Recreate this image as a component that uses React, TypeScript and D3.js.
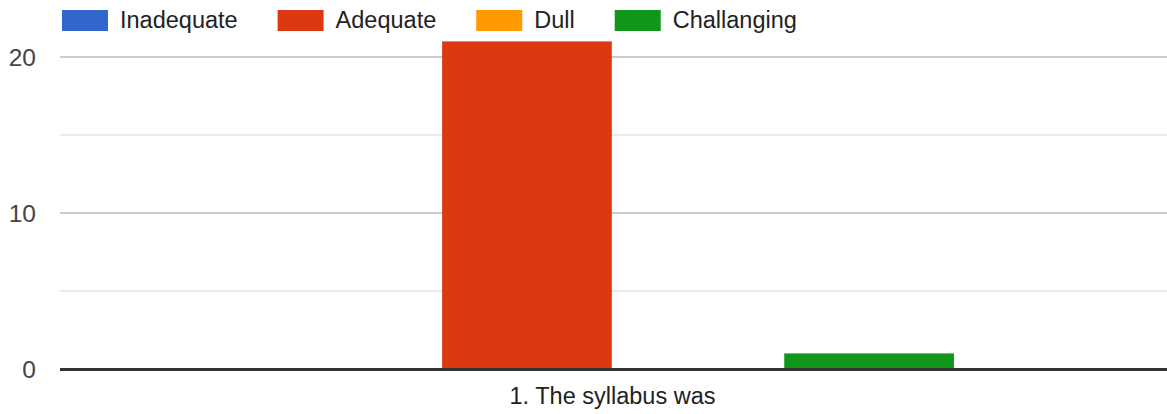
import React, { useMemo } from "react";
import * as d3 from "d3";

const categories: string[] = ["1. The syllabus was"];
const seriesNames: string[] = ["Inadequate", "Adequate", "Dull", "Challanging"];
const seriesColors: string[] = ["#3366cc", "#dc3912", "#ff9900", "#109618"];
const seriesValues: number[][] = [[0], [21], [0], [1]];
const yTicks: number[] = [0, 5, 10, 15, 20];
const yLabelTicks: number[] = [0, 10, 20];

const W = 1167;
const H = 414;
const FONT = "'Liberation Sans', Arial, sans-serif";

function measure(text: string, size: number): number {
  const c = document.createElement("canvas");
  const ctx = c.getContext("2d");
  if (!ctx) return text.length * size * 0.5;
  ctx.font = `${size}px 'Liberation Sans', Arial, sans-serif`;
  return ctx.measureText(text).width;
}

export default function App() {
  const left = 60;
  const right = 1165;
  const baseY = 369;
  const y = d3.scaleLinear().domain([0, 20]).range([baseY, 57]);

  const groupFrac = 0.618;
  const x0 = d3
    .scaleBand<string>()
    .domain(categories)
    .range([left, right])
    .paddingInner(0)
    .paddingOuter((1 / groupFrac - 1) / 2);
  const x1 = d3
    .scaleBand<string>()
    .domain(seriesNames)
    .range([0, x0.bandwidth()])
    .paddingInner(0.008)
    .paddingOuter(0);

  const legendSize = 23.5;
  const legendItems = useMemo(() => {
    let cx = 62;
    return seriesNames.map((name, i) => {
      const w = measure(name, legendSize);
      const item = { name, color: seriesColors[i], x: cx, w };
      cx += 46 + 12 + w + 40;
      return item;
    });
  }, []);

  return (
    <svg
      width={W}
      height={H}
      style={{ position: "absolute", left: 0, top: 0, background: "#fff" }}
      fontFamily={FONT}
    >
      {yTicks
        .filter((t) => t !== 0)
        .map((t) => (
          <line
            key={t}
            x1={left}
            x2={W}
            y1={y(t)}
            y2={y(t)}
            stroke={t % 10 === 0 ? "#cccccc" : "#ebebeb"}
            strokeWidth={2}
          />
        ))}
      {yLabelTicks.map((t) => (
        <text
          key={t}
          x={36}
          y={y(t) + 9}
          textAnchor="end"
          fontSize={24.5}
          fill="#444"
        >
          {t}
        </text>
      ))}
      {categories.map((c, ci) => (
        <g key={c} transform={`translate(${x0(c)},0)`}>
          {seriesNames.map((s, si) => {
            const v = seriesValues[si][ci];
            if (!v) return null;
            return (
              <rect
                key={s}
                x={x1(s)}
                y={y(v)}
                width={x1.bandwidth()}
                height={baseY - y(v)}
                fill={seriesColors[si]}
              />
            );
          })}
        </g>
      ))}
      <line x1={left} x2={W} y1={baseY + 0.5} y2={baseY + 0.5} stroke="#333" strokeWidth={3} />
      {categories.map((c) => (
        <text
          key={c}
          x={(x0(c) as number) + x0.bandwidth() / 2}
          y={404}
          textAnchor="middle"
          fontSize={23.5}
          fill="#222"
        >
          {c}
        </text>
      ))}
      {legendItems.map((it) => (
        <g key={it.name}>
          <rect x={it.x} y={10} width={46} height={21} fill={it.color} />
          <text x={it.x + 58} y={28} fontSize={legendSize} fill="#222">
            {it.name}
          </text>
        </g>
      ))}
    </svg>
  );
}
